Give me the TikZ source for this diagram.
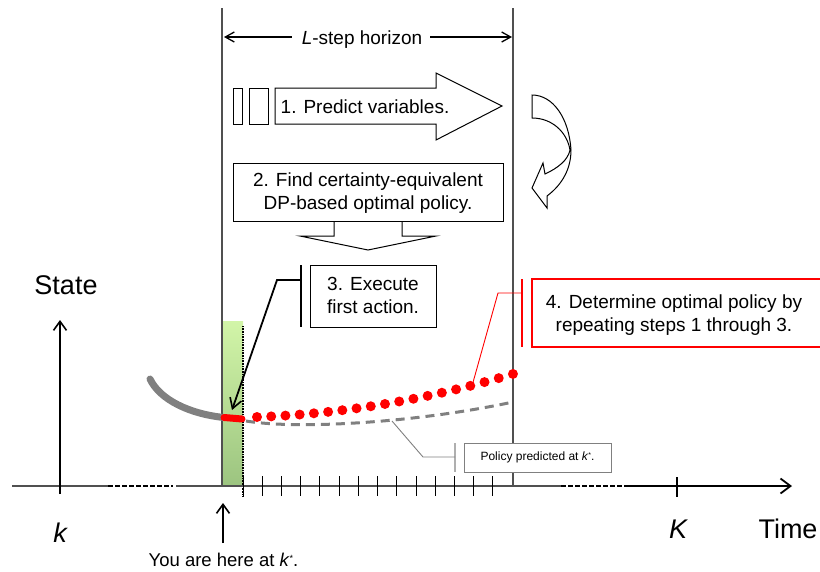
\documentclass[tikz,border=0pt]{standalone}
\usepackage{fontspec}
\setmainfont{Liberation Sans}
\usetikzlibrary{arrows.meta}
\definecolor{greentop}{RGB}{210,245,168}
\definecolor{greenbot}{RGB}{156,196,128}
\definecolor{vgray}{RGB}{80,80,80}
\definecolor{cgray}{RGB}{128,128,128}
\definecolor{lgray}{RGB}{175,175,175}
\begin{document}
\begin{tikzpicture}[x=1pt,y=-1pt,
  txt/.style={font=\fontsize{19}{23}\selectfont, align=center, inner sep=0pt},
  big/.style={font=\fontsize{27}{30}\selectfont, inner sep=0pt, anchor=base},
  boxline/.style={draw=black, line width=1pt, fill=white},
  vline/.style={draw=vgray, line width=1.2pt},
  barb/.style={-{Straight Barb[length=9pt,width=13pt,line width=1.6pt]}},
  smallbarb/.style={-{Straight Barb[length=9pt,width=10pt,line width=1.3pt]}},
  tick/.style={draw=black, line width=1pt},
  thickdash/.style={draw=black, line width=2.2pt, dash pattern=on 4.5pt off 2.5pt},
  reddot/.style={fill=red, draw=none},
]
\useasboundingbox (0,0) rectangle (820,571);

% green current-step band
\shade[top color=greentop, bottom color=greenbot] (222,321) rectangle (243,486);

% horizon boundaries
\coordinate (LT) at (222,8);  \coordinate (LB) at (222,486);
\coordinate (RT) at (513,8);  \coordinate (RB) at (513,486);
\draw[vline] (LT) -- (LB);
\draw[vline] (RT) -- (RB);

% dotted line at k*+1
\coordinate (DT) at (243,326); \coordinate (DB) at (243,496);
\draw[black, line width=1.3pt, dash pattern=on 1pt off 0.6pt] (DT) -- (DB);

% time axis
\coordinate (A0) at (12,486);  \coordinate (A1) at (108,486);
\coordinate (A2) at (173,486); \coordinate (A3) at (176,486);
\coordinate (A4) at (561,486); \coordinate (A5) at (628,486);
\coordinate (A6) at (792,486);
\draw[draw=vgray, line width=1.1pt] (A0) -- (A1);
\draw[thickdash] (A1) -- (A2);
\draw[draw=vgray, line width=1.1pt] (A3) -- (A4);
\draw[thickdash] (A4) -- (A5);
\draw[line width=2.4pt, -{Straight Barb[length=10pt,width=15pt,line width=1.8pt]}] (A5) -- (A6);

% ticks
\foreach \i in {0,...,13} {
  \draw[tick] ({243+19.23*\i},476) -- ({243+19.23*\i},496);
}
\coordinate (KT) at (677,477); \coordinate (KB) at (677,497);
\draw[line width=1.1pt] (KT) -- (KB);

% state axis
\coordinate (S0) at (60,494); \coordinate (S1) at (60,320);
\draw[line width=2pt, barb] (S0) -- (S1);
\node[big] (state) at (66,294) {State};
\node[big] (kl) at (60,542) {\itshape k};
\node[big] (KL) at (678,538) {\itshape K};
\node[big] (time) at (788,538) {Time};

% you are here
\coordinate (Y0) at (223,543); \coordinate (Y1) at (223,503);
\draw[line width=2pt, barb] (Y0) -- (Y1);
\node[font=\fontsize{18.5}{22}\selectfont, inner sep=0pt, anchor=base] (here) at (223.5,566.5)
  {You are here at \textit{k}\raisebox{0.55ex}{\fontsize{9}{10}\selectfont *}.};

% L-step horizon
\node[txt, anchor=base] (horizon) at (362,44) {\textit{L}-step horizon};
\coordinate (H0) at (224,37); \coordinate (H1) at (512,37);
\draw[line width=1.5pt, smallbarb] (horizon.west |- H0) ++(-10,0) -- (H0);
\draw[line width=1.5pt, smallbarb] (horizon.east |- H1) ++(8,0) -- (H1);

% step 1: block arrow
\draw[line width=1pt, fill=white] (233,88) rectangle (242,124);
\draw[line width=1pt, fill=white] (249,88) rectangle (268,124);
\draw[line width=1pt, fill=white] (275,88) -- (436,88) -- (436,73) -- (502,106)
  -- (436,140) -- (436,124) -- (275,124) -- cycle;
\node[txt, anchor=base] (step1) at (365,113) {1. Predict variables.};

% curved return arrow
\draw[line width=1pt, fill=white] (532,95) -- (532,118)
  .. controls (552,118) and (567,132) .. (570,150)
  .. controls (568,160) and (558,168) .. (545,174)
  -- (543,163) -- (532,188) -- (547,208) -- (547,196)
  .. controls (563,184) and (571,168) .. (571,150)
  .. controls (569,118) and (553,95) .. (532,95) -- cycle;

% step 2 box and down arrow
\draw[line width=1pt, fill=white] (334,221) -- (334,236) -- (300,236) -- (368,250)
  -- (436,236) -- (402,236) -- (402,221);
\node[boxline, minimum width=270pt, minimum height=58pt, inner sep=0pt] (box2) at (368,192) {};
\node[txt] (step2) at (368,193.5) {2. Find certainty-equivalent\\DP-based optimal policy.};

% step 3 box
\node[boxline, minimum width=126pt, minimum height=62pt, inner sep=0pt] (box3) at (373,296) {};
\node[txt] (step3) at (373,295.5) {3. Execute\\first action.};
\coordinate (B3T) at (301,265); \coordinate (B3B) at (301,327);
\draw[line width=1.1pt] (B3T) -- (B3B);
\coordinate (E0) at (301,280); \coordinate (E1) at (277,280); \coordinate (E2) at (232,410);

% step 4 box (red)
\draw[red, line width=1.1pt] (840,279) -- (532,279) -- (532,347) -- (840,347);
\node[txt] (step4) at (674,315.5) {4. Determine optimal policy by\\repeating steps 1 through 3.};
\coordinate (B4T) at (522,279); \coordinate (B4B) at (522,347);
\draw[red, line width=1.1pt] (B4T) -- (B4B);

% past trajectory
\coordinate (P0) at (150,379); \coordinate (P1) at (224,417.5); \coordinate (P2) at (242,419);
\draw[cgray, line width=7pt, line cap=round] (P0) .. controls (160,400) and (190,414) .. (P1);
\draw[red, line width=7pt, line cap=round] (P1) -- (P2);

% predicted (dashed) trajectory
\coordinate (Q0) at (246,421); \coordinate (Q1) at (513,402);
\draw[cgray, line width=3pt, dash pattern=on 9pt off 6pt] (Q0) .. controls (300,430) and (420,422) .. (Q1);

% optimal policy dots
\foreach \i in {0,...,18} {
  \pgfmathsetmacro{\t}{\i*14.22}
  \pgfmathsetmacro{\yy}{417-0.000518*\t*\t-0.0354*\t}
  \fill[reddot] ({257+\t},\yy) circle (5pt);
}
\coordinate (R0) at (522,293); \coordinate (R1) at (498,293); \coordinate (R2) at (472,386);
\draw[red, line width=0.9pt] (R0) -- (R1) -- (R2);

% execute callout arrow
\draw[line width=1.8pt, -{Straight Barb[length=10pt,width=12pt,line width=1.6pt]}] (E0) -- (E1) -- (E2);

% policy predicted box
\node[draw=cgray, line width=1pt, fill=white, minimum width=147pt, minimum height=29pt, inner sep=0pt,
  font=\fontsize{12}{14}\selectfont] (pbox) at (537.5,457.5) {Policy predicted at \textit{k}\raisebox{0.55ex}{\fontsize{7}{8}\selectfont *}.};
\coordinate (PB0) at (455,443); \coordinate (PB1) at (455,472);
\draw[lgray, line width=1.5pt] (PB0) -- (PB1);
\coordinate (PL0) at (455,457); \coordinate (PL1) at (423,457); \coordinate (PL2) at (392,421);
\draw[cgray, line width=0.9pt] (PL0) -- (PL1) -- (PL2);
\end{tikzpicture}
\end{document}
